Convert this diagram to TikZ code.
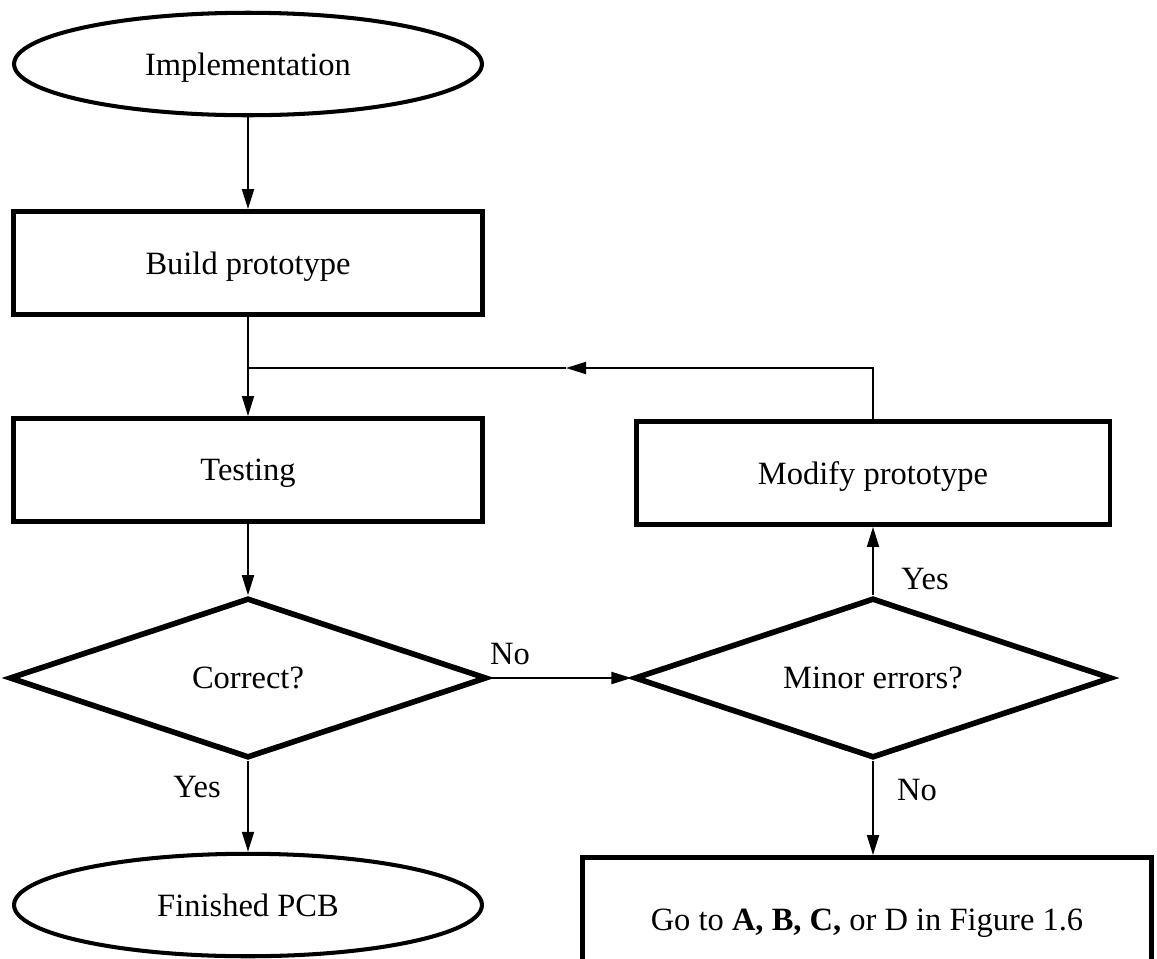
\documentclass[tikz,border=0pt]{standalone}
\usepackage{fontspec}
\setmainfont{Liberation Serif}
\usetikzlibrary{shapes.geometric, arrows.meta}

\begin{document}
\begin{tikzpicture}[x=0.02cm, y=-0.02cm, font=\fontsize{18.5}{22}\selectfont,
    terminal/.style={draw, ellipse, line width=2.3pt, minimum width=9.36cm, minimum height=2.05cm, inner sep=0pt, text depth=0pt},
    process/.style={draw, rectangle, line width=2.8pt, minimum width=9.4cm, minimum height=2.06cm, inner sep=0pt, text depth=0pt},
    decision/.style={draw, diamond, aspect=3, line width=3.2pt, minimum width=9.55cm, minimum height=3.2cm, inner sep=0pt},
    flow/.style={line width=1.1pt, -{Triangle[length=4mm, width=2.4mm]}},
    link/.style={line width=1.1pt}]
            \clip (0,0) rectangle (1157,958);

            % Nodes
            \node[terminal] (impl) at (248,64) {Implementation};
            \node[process] (build) at (248,263) {Build prototype};
            \node[process] (test) at (248,470) {Testing};
            \node[process, minimum width=9.48cm] (modify) at (873,473) {Modify prototype};
            \node[decision] (correct) at (248,678) {Correct?};
            \node[decision] (minor) at (873,678) {Minor errors?};
            \node[terminal] (done) at (248,905) {Finished PCB};
            \node[process, minimum width=11.38cm, minimum height=2.5cm] (goto) at (867,920) {Go to \textbf{A, B, C,} or D in Figure 1.6};

            % Labels
            \node (noA) at (510,654) {No};
            \node (yesA) at (197,787) {Yes};
            \node (yesB) at (925,579) {Yes};
            \node (noB) at (917,790) {No};

            % Points
            \coordinate (junc) at (248,368);
            \coordinate (back) at (566,368);

            % Lines
            \draw[flow] (impl) -- (build);
            \draw[link] (build) -- (junc);
            \draw[flow] (junc) -- (test);
            \draw[flow] (test) -- (correct);
            \draw[flow] (correct) -- (minor);
            \draw[flow] (correct) -- (done);
            \draw[flow] (minor) -- (modify);
            \draw[flow] (minor) -- (minor |- goto.north);
            \draw[flow] (modify.north) |- (back);
            \draw[link] (back) -- (junc);
        \end{tikzpicture}
\end{document}
